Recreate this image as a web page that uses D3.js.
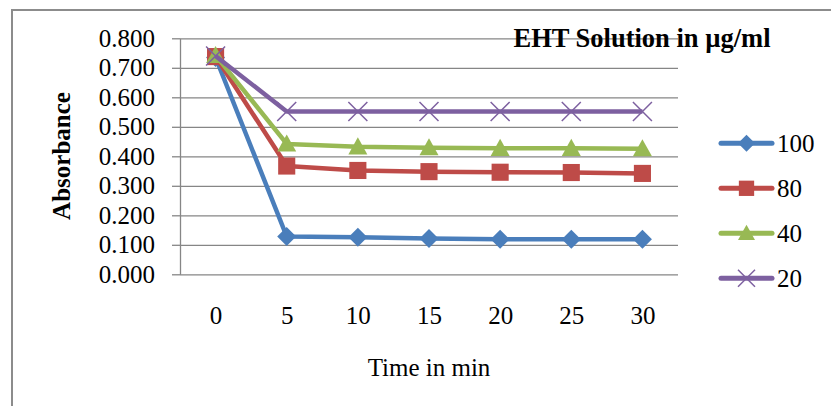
<!DOCTYPE html>
<html><head><meta charset="utf-8">
<script src="https://cdn.jsdelivr.net/npm/d3@7"></script>
<style>
html,body{margin:0;padding:0;background:#fff;}
svg{display:block;font-family:"Liberation Serif","Times New Roman",serif;}
</style></head>
<body><svg id="c" width="831" height="406"></svg>
<script>
const times = ["0","5","10","15","20","25","30"];
const seriesNames = ["100","80","40","20"];
const s100 = [0.735,0.128,0.126,0.121,0.119,0.119,0.119];
const s80  = [0.738,0.367,0.352,0.348,0.346,0.345,0.342];
const s40  = [0.742,0.442,0.432,0.429,0.427,0.427,0.426];
const s20  = [0.740,0.552,0.552,0.552,0.552,0.552,0.552];
const yTicks = [0,0.1,0.2,0.3,0.4,0.5,0.6,0.7,0.8];
const colors = ["#4A7EBB","#BE4B48","#98B954","#7D60A0"];
const markers = ["diamond","square","triangle","x"];
const titleText = "EHT Solution in \u00b5g/ml";
const xTitle = "Time in min";
const yTitle = "Absorbance";

const seriesVals = [s100,s80,s40,s20];
const svg = d3.select("#c");

// outer chart border (partially visible)
svg.append("path").attr("d","M12,406V10H831").attr("fill","none").attr("stroke","#8c8c8c").attr("stroke-width",2);

const L=180,R=678,T=38.3,B=274.3;
const x = d3.scalePoint().domain(times).range([L,R]).padding(0.5);
const y = d3.scaleLinear().domain([0,0.8]).range([B,T]);

// gridlines
svg.append("g").attr("transform",`translate(${L},0)`)
  .call(d3.axisLeft(y).tickValues(yTicks).tickSize(-(R-L)).tickFormat(""))
  .call(g=>g.select(".domain").remove())
  .call(g=>g.selectAll("line").attr("stroke","#868686").attr("stroke-width",1.3));

// y axis with labels
const ya = svg.append("g").attr("transform",`translate(${L},0)`)
  .call(d3.axisLeft(y).tickValues(yTicks).tickSize(8).tickSizeOuter(0).tickPadding(17).tickFormat(d3.format(".3f")));
ya.select(".domain").attr("stroke","#868686").attr("stroke-width",1.3);
ya.selectAll("line").attr("stroke","#868686").attr("stroke-width",1.3);
ya.selectAll("text").attr("font-size",25).attr("fill","#000").attr("font-family","Liberation Serif");

// x axis labels
const xa = svg.append("g").attr("transform",`translate(0,${B})`)
  .call(d3.axisBottom(x).tickSize(0).tickPadding(32));
xa.select(".domain").remove();
xa.selectAll("text").attr("font-size",25).attr("fill","#000").attr("font-family","Liberation Serif");

// titles
svg.append("text").attr("x",(L+R)/2).attr("y",376).attr("text-anchor","middle")
  .attr("font-size",25).text(xTitle);
svg.append("text").attr("transform","translate(70,156) rotate(-90)").attr("text-anchor","middle")
  .attr("font-size",25).attr("font-weight","bold").text(yTitle);
svg.append("text").attr("x",642).attr("y",47).attr("text-anchor","middle")
  .attr("font-size",26.5).attr("font-weight","bold").text(titleText);

function drawMarker(g,type,cx,cy,color,s){
  if(type==="diamond"){
    g.append("path").attr("d",`M${cx},${cy-s}L${cx+s},${cy}L${cx},${cy+s}L${cx-s},${cy}Z`).attr("fill",color);
  } else if(type==="square"){
    g.append("rect").attr("x",cx-s*0.9).attr("y",cy-s*0.9).attr("width",s*1.8).attr("height",s*1.8).attr("fill",color);
  } else if(type==="triangle"){
    g.append("path").attr("d",`M${cx},${cy-s}L${cx+s},${cy+s*0.8}L${cx-s},${cy+s*0.8}Z`).attr("fill",color);
  } else {
    g.append("path").attr("d",`M${cx-s},${cy-s}L${cx+s},${cy+s}M${cx+s},${cy-s}L${cx-s},${cy+s}`)
      .attr("stroke",color).attr("stroke-width",1.5).attr("fill","none");
  }
}

const line = d3.line().x((d,i)=>x(times[i])).y(d=>y(d));
seriesVals.forEach((vals,k)=>{
  const g = svg.append("g");
  g.append("path").datum(vals).attr("d",line).attr("fill","none")
    .attr("stroke",colors[k]).attr("stroke-width",4.5).attr("stroke-linejoin","round");
  vals.forEach((v,i)=>drawMarker(g,markers[k],x(times[i]),y(v),colors[k],9.5));
});

// legend
const ly = d3.scalePoint().domain(seriesNames).range([143.3,278.3]);
seriesNames.forEach((n,k)=>{
  const g = svg.append("g");
  const yy = ly(n);
  g.append("line").attr("x1",721).attr("x2",772).attr("y1",yy).attr("y2",yy)
    .attr("stroke",colors[k]).attr("stroke-width",5).attr("stroke-linecap","round");
  drawMarker(g,markers[k],746.5,yy,colors[k],8.5);
  g.append("text").attr("x",777).attr("y",yy+8.5).attr("font-size",25).text(n);
});
</script></body></html>
